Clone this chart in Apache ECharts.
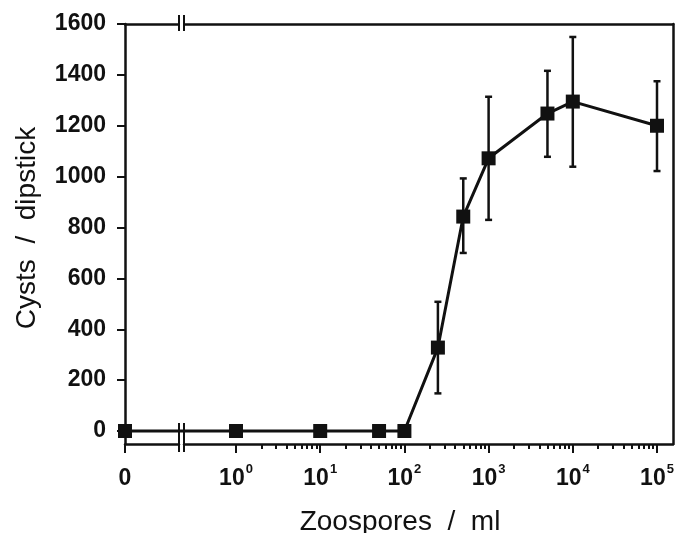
<!DOCTYPE html>
<html><head><meta charset="utf-8">
<script src="https://cdn.jsdelivr.net/npm/echarts@6/dist/echarts.min.js"></script>
<style>html,body{margin:0;padding:0;background:#fff}#c{width:675px;height:533px}</style>
</head><body><div id="c"></div>
<script>
// ---------- data ----------
const zeroDoseLabel = '0';
const zeroDoseX = [0];
const zeroDoseCysts = [0];
const concentrations = [1, 10, 50, 100, 250, 500, 1000, 5000, 10000, 100000];
const cystsMean = [0, 0, 0, 0, 328, 843, 1072, 1248, 1295, 1200];
const errLow  = [null, null, null, null, 148, 700, 830, 1078, 1039, 1022];
const errHigh = [null, null, null, null, 508, 993, 1314, 1416, 1549, 1375];
const yTicks = [0, 200, 400, 600, 800, 1000, 1200, 1400, 1600];
const xDecadeTicks = [1, 10, 100, 1000, 10000, 100000];
const xMinorMultipliers = [2, 3, 4, 5, 6, 7, 8, 9];
const xTitle = 'Zoospores  /  ml';
const yTitle = 'Cysts  /  dipstick';

// ---------- layout / style ----------
const INK = '#111';
const FONT = '"Liberation Sans", Arial, Helvetica, sans-serif';
const TICK_WEIGHT = 'bold';
const LEFT = 125, BREAK_L = 179, BREAK_R = 184, RIGHT = 673, TOP = 24, BOTTOM = 444;
const Y_MIN = -51, Y_MAX = 1600;
const LOG_MIN = Math.pow(10, -0.6176), LOG_MAX = Math.pow(10, 5.19);

const xMinorTicks = [];
xDecadeTicks.forEach(d => xMinorMultipliers.forEach(m => {
  const v = d * m;
  if (v < LOG_MAX) xMinorTicks.push(v);
}));

const lineStyle = { color: INK, width: 2.5 };
const richLabel = {
  b: { fontSize: 23, fontFamily: FONT, fontWeight: TICK_WEIGHT, color: INK, lineHeight: 27, verticalAlign: 'bottom' },
  s: { fontSize: 13, fontFamily: FONT, fontWeight: TICK_WEIGHT, color: INK, verticalAlign: 'top', lineHeight: 14, padding: [0, 0, 0, 1] }
};
const noLabel = { show: false };
const noSplit = { show: false };

const chart = echarts.init(document.getElementById('c'), null, { renderer: 'canvas' });

const option = {
  backgroundColor: '#fff',
  animation: false,
  grid: [
    { left: LEFT, top: TOP, width: BREAK_L - LEFT, height: BOTTOM - TOP, containLabel: false, outerBoundsMode: 'none' },
    { left: BREAK_R, top: TOP, width: RIGHT - BREAK_R, height: BOTTOM - TOP, containLabel: false, outerBoundsMode: 'none' }
  ],
  xAxis: [
    { gridIndex: 0, type: 'value', min: 0, max: 1, position: 'bottom',
      axisLine: { show: true, onZero: false, lineStyle },
      axisTick: { show: true, customValues: zeroDoseX, length: 9, lineStyle: { color: INK, width: 2 } },
      axisLabel: { show: true, customValues: zeroDoseX, margin: 19, formatter: () => '{b|' + zeroDoseLabel + '}', rich: richLabel },
      splitLine: noSplit },
    { gridIndex: 0, type: 'value', min: 0, max: 1, position: 'top',
      axisLine: { show: true, onZero: false, lineStyle },
      axisTick: { show: false }, axisLabel: noLabel, splitLine: noSplit },
    { gridIndex: 1, type: 'log', logBase: 10, min: LOG_MIN, max: LOG_MAX, position: 'bottom',
      axisLine: { show: true, onZero: false, lineStyle },
      axisTick: { show: true, customValues: xDecadeTicks, length: 9, lineStyle: { color: INK, width: 2 } },
      axisLabel: { show: true, customValues: xDecadeTicks, margin: 19,
        formatter: v => '{b|10}{s|' + Math.round(Math.log10(v)) + '}', rich: richLabel },
      splitLine: noSplit, minorSplitLine: noSplit,
      name: xTitle, nameLocation: 'middle', nameGap: 64,
      nameTextStyle: { fontSize: 28, fontFamily: FONT, color: INK, padding: [0, 57, 0, 0] } },
    { gridIndex: 1, type: 'log', logBase: 10, min: LOG_MIN, max: LOG_MAX, position: 'bottom',
      axisLine: { show: false, onZero: false },
      axisTick: { show: true, customValues: xMinorTicks, length: 5, lineStyle: { color: INK, width: 2 } },
      axisLabel: noLabel, splitLine: noSplit },
    { gridIndex: 1, type: 'log', logBase: 10, min: LOG_MIN, max: LOG_MAX, position: 'top',
      axisLine: { show: true, onZero: false, lineStyle },
      axisTick: { show: false }, axisLabel: noLabel, splitLine: noSplit }
  ],
  yAxis: [
    { gridIndex: 0, type: 'value', min: Y_MIN, max: Y_MAX, position: 'left',
      axisLine: { show: true, onZero: false, lineStyle },
      axisTick: { show: true, customValues: yTicks, length: 8, lineStyle: { color: INK, width: 2 } },
      axisLabel: { show: true, customValues: yTicks, margin: 19, fontSize: 23, fontWeight: TICK_WEIGHT,
        fontFamily: FONT, color: INK, formatter: v => String(v) },
      splitLine: noSplit,
      name: yTitle, nameLocation: 'middle', nameGap: 84,
      nameTextStyle: { fontSize: 28, fontFamily: FONT, color: INK, padding: [0, 0, 0, 12] } },
    { gridIndex: 1, type: 'value', min: Y_MIN, max: Y_MAX, position: 'right',
      axisLine: { show: true, onZero: false, lineStyle },
      axisTick: { show: false }, axisLabel: noLabel, splitLine: noSplit }
  ],
  series: [
    { type: 'custom', name: 'SD', xAxisIndex: 2, yAxisIndex: 1, z: 2,
      data: concentrations.map((c, i) => [c, errLow[i], errHigh[i]]).filter(d => d[1] != null),
      encode: { x: 0, y: [1, 2] },
      renderItem: (params, api) => {
        const x = api.value(0);
        const lo = api.coord([x, api.value(1)]);
        const hi = api.coord([x, api.value(2)]);
        const cap = 3.5;
        const st = { stroke: INK, lineWidth: 2.5 };
        return { type: 'group', children: [
          { type: 'line', shape: { x1: lo[0], y1: lo[1], x2: hi[0], y2: hi[1] }, style: st },
          { type: 'line', shape: { x1: hi[0] - cap, y1: hi[1], x2: hi[0] + cap, y2: hi[1] }, style: st },
          { type: 'line', shape: { x1: lo[0] - cap, y1: lo[1], x2: lo[0] + cap, y2: lo[1] }, style: st }
        ] };
      } },
    { type: 'line', name: 'Cysts', xAxisIndex: 2, yAxisIndex: 1, z: 3,
      data: concentrations.map((c, i) => [c, cystsMean[i]]),
      symbol: 'rect', symbolSize: 14, showAllSymbol: true,
      lineStyle: { color: INK, width: 3 }, itemStyle: { color: INK, opacity: 1 } },
    { type: 'scatter', name: 'Zero', xAxisIndex: 0, yAxisIndex: 0, z: 3, clip: false,
      data: zeroDoseX.map((x, i) => [x, zeroDoseCysts[i]]),
      symbol: 'rect', symbolSize: 14, itemStyle: { color: INK, opacity: 1 } }
  ]
};
chart.setOption(option);

// connecting segment across the axis break and the break marks
const p0 = chart.convertToPixel({ xAxisIndex: 0, yAxisIndex: 0 }, [zeroDoseX[0], zeroDoseCysts[0]]);
const p1 = chart.convertToPixel({ xAxisIndex: 2, yAxisIndex: 1 }, [concentrations[0], cystsMean[0]]);
const bar = (x, y1, y2) => ({ type: 'line', shape: { x1: x, y1, x2: x, y2 }, style: { stroke: INK, lineWidth: 2 }, z: 10 });
chart.setOption({
  graphic: [
    { type: 'line', shape: { x1: p0[0], y1: p0[1], x2: p1[0], y2: p1[1] }, style: { stroke: INK, lineWidth: 3 }, z: 2 },
    { type: 'rect', shape: { x: BREAK_L + 1, y: TOP - 9, width: BREAK_R - BREAK_L - 2, height: 18 }, style: { fill: '#fff' }, z: 9 },
    bar(BREAK_L, TOP - 9, TOP + 7), bar(BREAK_R, TOP - 9, TOP + 7),
    bar(BREAK_L, p0[1] - 8, BOTTOM + 8), bar(BREAK_R, p0[1] - 8, BOTTOM + 8)
  ]
});
</script>
</body></html>
